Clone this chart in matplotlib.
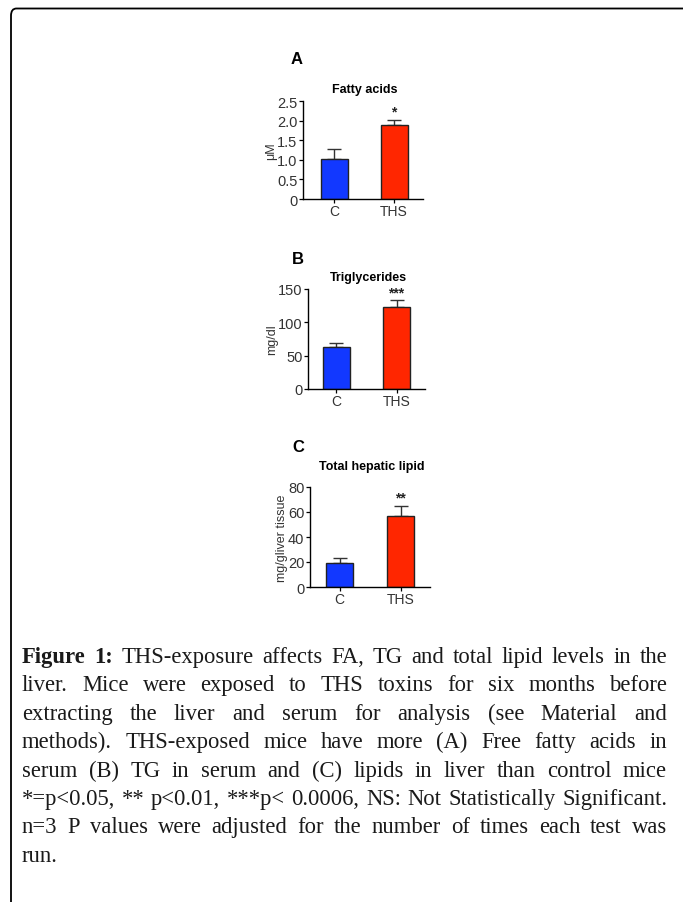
import numpy as np
import matplotlib
matplotlib.use('Agg')
import matplotlib.pyplot as plt
from matplotlib.patches import FancyBboxPatch

plt.rcParams['font.family'] = ['Liberation Sans', 'DejaVu Sans']

W, H = 683, 903
groups = ['C', 'THS']
bar_colors = ['#1238ff', '#ff2600']

panel_letters = ['A', 'B', 'C']
panel_titles = ['Fatty acids', 'Triglycerides', 'Total hepatic lipid']
panel_ylabels = ['\u03bcM', 'mg/dl', 'mg/gliver tissue']
panel_means = [[1.02, 1.90], [63, 123], [19, 57]]
panel_errs = [[0.26, 0.12], [6, 10], [4, 8]]
panel_stars = ['*', '***', '**']
panel_yticks = [[0, 0.5, 1.0, 1.5, 2.0, 2.5], [0, 50, 100, 150], [0, 20, 40, 60, 80]]
panel_yticklabels = [['0', '0.5', '1.0', '1.5', '2.0', '2.5'], ['0', '50', '100', '150'],
                     ['0', '20', '40', '60', '80']]

caption_lines = [
    'Figure 1: THS-exposure affects FA, TG and total lipid levels in the',
    'liver. Mice were exposed to THS toxins for six months before',
    'extracting the liver and serum for analysis (see Material and',
    'methods). THS-exposed mice have more (A) Free fatty acids in',
    'serum (B) TG in serum and (C) lipids in liver than control mice',
    '*=p<0.05, ** p<0.01, ***p< 0.0006, NS: Not Statistically Significant.',
    'n=3 P values were adjusted for the number of times each test was',
    'run.',
]

# pixel layout: (axis left, axis right, y0 px, ytop px, center C px, center THS px)
layout = [
    (303, 423, 200, 102, 334, 394),
    (308, 425, 390, 290, 336, 396.5),
    (310, 430, 588, 488, 339.5, 400.5),
]
letter_pos = [(297, 60), (298, 260), (298, 448)]
title_y = [90, 278, 467]

fig = plt.figure(figsize=(W / 100, H / 100), dpi=100)

# frame: top and left border with rounded corner
frame = FancyBboxPatch((11 / W, -0.2), 2.0, 1.2 - 9.5 / H,
                       boxstyle='round,pad=0,rounding_size=0.008',
                       transform=fig.transFigure, fill=False, lw=1.3,
                       edgecolor='black', clip_on=False)
fig.patches.append(frame)

for i in range(3):
    xl, xr, y0, yt, c1, c2 = layout[i]
    ax = fig.add_axes([xl / W, 1 - y0 / H, (xr - xl) / W, (y0 - yt) / H])
    unit = c2 - c1
    ax.set_xlim(-(c1 - xl) / unit, (xr - c1) / unit)
    ymax = panel_yticks[i][-1]
    ax.set_ylim(0, ymax)
    x = np.arange(len(groups))
    ax.bar(x, panel_means[i], width=27 / unit, color=bar_colors,
           edgecolor='#222222', linewidth=1.0, zorder=2)
    ax.errorbar(x, panel_means[i], yerr=[[0, 0], panel_errs[i]], fmt='none',
                ecolor='#333333', elinewidth=1.0, capsize=5, capthick=1.0, zorder=1)
    top = panel_means[i][1] + panel_errs[i][1]
    ax.text(1, top + ymax * 0.01, panel_stars[i], ha='center', va='bottom',
            fontsize=10, fontweight='bold', color='#222222')
    ax.set_xticks(x)
    ax.set_xticklabels(groups, fontsize=10, color='#333333')
    ax.set_yticks(panel_yticks[i])
    ax.set_yticklabels(panel_yticklabels[i], fontsize=10.5, color='#333333')
    ax.tick_params(axis='y', length=3, width=0.9, pad=1)
    ax.tick_params(axis='x', length=3, width=0.9, pad=0.5)
    for s in ['top', 'right']:
        ax.spines[s].set_visible(False)
    ax.spines['left'].set_linewidth(1.0)
    ax.spines['bottom'].set_linewidth(1.0)
    ax.set_ylabel(panel_ylabels[i], fontsize=9, color='#333333', labelpad=0)
    fig.text(letter_pos[i][0] / W, 1 - letter_pos[i][1] / H, panel_letters[i],
             fontsize=12, fontweight='bold', ha='center', va='center')
    fig.text(((xl + xr) / 2 + 2) / W, 1 - title_y[i] / H, panel_titles[i],
             fontsize=9, fontweight='bold', ha='center', va='center')

# justified caption
cap_font = 'Liberation Serif'
cap_size = 16.3
left_px, right_px = 22, 667
base0, step = 663, 28.4
renderer = fig.canvas.get_renderer()
for li, line in enumerate(caption_lines):
    words = line.split(' ')
    items = []
    for wi, w in enumerate(words):
        bold = li == 0 and wi < 2
        t = fig.text(0, 0, w, fontsize=cap_size, family=cap_font,
                     fontweight='bold' if bold else 'normal', va='baseline', ha='left',
                     color='#1a1a1a')
        items.append(t)
    widths = [t.get_window_extent(renderer).width for t in items]
    yb = 1 - (base0 + li * step) / H
    if li < len(caption_lines) - 1 and len(items) > 1:
        gap = (right_px - left_px - sum(widths)) / (len(items) - 1)
    else:
        sp = fig.text(0, 0, 'a a', fontsize=cap_size, family=cap_font)
        sa = fig.text(0, 0, 'aa', fontsize=cap_size, family=cap_font)
        gap = sp.get_window_extent(renderer).width - sa.get_window_extent(renderer).width
        sp.remove()
        sa.remove()
    xp = left_px
    for t, wd in zip(items, widths):
        t.set_position((xp / W, yb))
        xp += wd + gap

fig.savefig('out.png', dpi=100)
